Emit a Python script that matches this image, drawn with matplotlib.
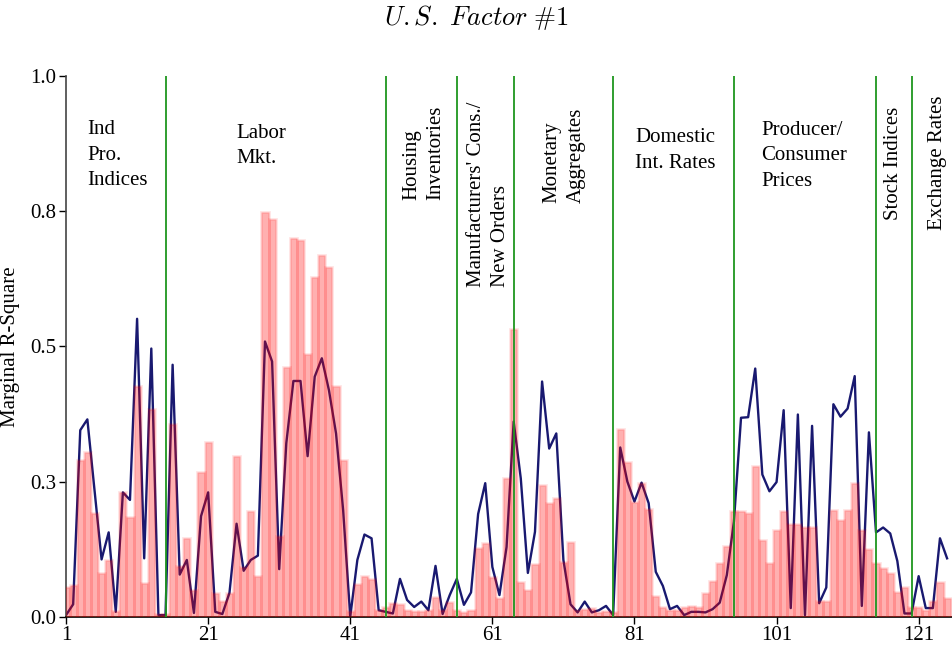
import numpy as np
import matplotlib.pyplot as plt

plt.rcParams['font.family'] = ['Liberation Serif', 'DejaVu Serif']
plt.rcParams['mathtext.fontset'] = 'cm'

# marginal R-square of each series on factor 1
series_id = np.arange(1, 126)
r2_bar = [0.055, 0.058, 0.290, 0.305, 0.191, 0.080, 0.105, 0.010, 0.231, 0.185,
          0.427, 0.062, 0.385, 0.005, 0.005, 0.356, 0.094, 0.145, 0.050, 0.268,
          0.323, 0.044, 0.030, 0.044, 0.297, 0.092, 0.195, 0.075, 0.748, 0.735,
          0.150, 0.462, 0.700, 0.696, 0.486, 0.628, 0.669, 0.646, 0.427, 0.290,
          0.010, 0.060, 0.075, 0.069, 0.012, 0.018, 0.025, 0.024, 0.012, 0.010,
          0.010, 0.012, 0.037, 0.013, 0.028, 0.012, 0.009, 0.012, 0.128, 0.136,
          0.074, 0.034, 0.256, 0.533, 0.064, 0.049, 0.097, 0.244, 0.210, 0.219,
          0.102, 0.138, 0.012, 0.014, 0.016, 0.009, 0.011, 0.009, 0.348, 0.287,
          0.213, 0.247, 0.200, 0.039, 0.018, 0.012, 0.012, 0.018, 0.020, 0.018,
          0.044, 0.066, 0.100, 0.131, 0.195, 0.195, 0.191, 0.279, 0.141, 0.099,
          0.160, 0.195, 0.171, 0.171, 0.166, 0.166, 0.030, 0.030, 0.198, 0.178,
          0.198, 0.247, 0.160, 0.125, 0.100, 0.090, 0.080, 0.045, 0.055, 0.018,
          0.018, 0.012, 0.030, 0.065, 0.034]
r2_line = [0.003, 0.023, 0.345, 0.365, 0.235, 0.106, 0.156, 0.009, 0.230, 0.216,
           0.551, 0.108, 0.496, 0.003, 0.003, 0.466, 0.078, 0.105, 0.007, 0.186,
           0.230, 0.009, 0.005, 0.044, 0.172, 0.085, 0.105, 0.113, 0.509, 0.472,
           0.088, 0.321, 0.436, 0.436, 0.297, 0.444, 0.478, 0.419, 0.339, 0.197,
           0.000, 0.105, 0.152, 0.145, 0.012, 0.009, 0.006, 0.070, 0.031, 0.018,
           0.028, 0.012, 0.094, 0.005, 0.040, 0.070, 0.022, 0.045, 0.190, 0.247,
           0.092, 0.040, 0.129, 0.361, 0.256, 0.081, 0.157, 0.435, 0.311, 0.339,
           0.105, 0.023, 0.008, 0.028, 0.008, 0.012, 0.020, 0.003, 0.313, 0.250,
           0.213, 0.248, 0.210, 0.083, 0.057, 0.014, 0.020, 0.003, 0.009, 0.009,
           0.008, 0.014, 0.026, 0.077, 0.176, 0.368, 0.369, 0.459, 0.263, 0.232,
           0.249, 0.382, 0.016, 0.374, 0.003, 0.353, 0.025, 0.054, 0.393, 0.370,
           0.385, 0.445, 0.020, 0.341, 0.156, 0.165, 0.154, 0.103, 0.006, 0.006,
           0.075, 0.016, 0.016, 0.145, 0.108]

# group boundaries and labels
group_breaks = [15, 46, 56, 64, 78, 95, 115, 120]
flat_labels = [('Ind\nPro.\nIndices', 4.0, 0.918),
               ('Labor\nMkt.', 25.0, 0.912),
               ('Domestic\nInt. Rates', 81.1, 0.903),
               ('Producer/\nConsumer\nPrices', 98.8, 0.917)]
rot_labels = [('Housing\nInventories', 51.3, 0.77),
              ("Manufacturers' Cons./\nNew Orders", 60.4, 0.61),
              ('Monetary\nAggregates', 71.1, 0.765),
              ('Stock Indices', 117.5, 0.733),
              ('Exchange Rates', 123.6, 0.715)]

yticks = [0, 0.25, 0.5, 0.75, 1.0]
ytick_labels = ['0.0', '0.3', '0.5', '0.8', '1.0']
xticks = [1, 21, 41, 61, 81, 101, 121]

fig = plt.figure(figsize=(9.53, 6.52), dpi=100)
ax = fig.add_axes([0.0693, 0.0541, 0.9297, 0.8293])

ax.plot(series_id, r2_line, color='midnightblue', lw=1.7, zorder=2)
ax.bar(series_id, r2_bar, width=1.0, color=(1, 0, 0, 0.31),
       edgecolor=(1, 0, 0, 0.11), linewidth=2.0, zorder=3)
for b in group_breaks:
    ax.plot([b, b], [0, 1], color='#1f961f', lw=1.3, zorder=4)
ax.axhline(0, color='#1f961f', lw=1.0, ls=(0, (1, 4)), zorder=4)

for txt, x, y in flat_labels:
    ax.text(x, y, txt, fontsize=15, ha='left', va='top', linespacing=1.45)
for txt, x, y in rot_labels:
    ax.text(x, y, txt, fontsize=15, rotation=90, ha='center', va='bottom',
            multialignment='left', linespacing=1.35)

ax.set_xlim(1, 125.7)
ax.set_ylim(0, 1.0)
ax.set_xticks(xticks)
ax.set_yticks(yticks)
ax.set_yticklabels(ytick_labels)
ax.tick_params(labelsize=15, length=5, width=1.0, direction='out', pad=2)
ax.spines['top'].set_visible(False)
ax.spines['right'].set_visible(False)
ax.spines['left'].set_color('#444444')
ax.spines['left'].set_linewidth(1.2)
ax.spines['bottom'].set_linewidth(1.2)
ax.set_ylabel('Marginal R-Square', fontsize=15)
ax.yaxis.set_label_coords(-0.052, 0.5)

fig.text(0.5, 0.973, r'$\mathit{U.S.\ Factor\ \#1}$', fontsize=19,
         ha='center', va='center')

fig.savefig('out.png', dpi=100)
